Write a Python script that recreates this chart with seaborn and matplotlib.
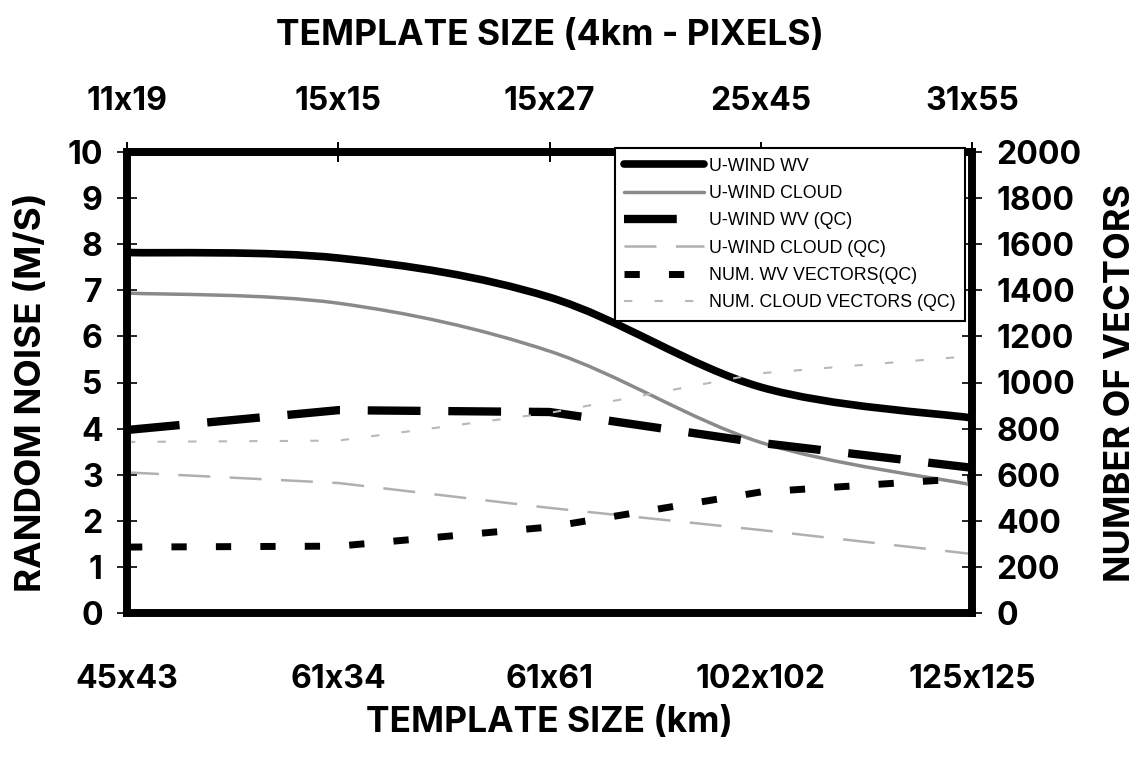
import matplotlib
matplotlib.use("Agg")
import matplotlib.pyplot as plt
import numpy as np
import pandas as pd
import seaborn as sns
from matplotlib.lines import Line2D
from matplotlib.patches import PathPatch
from matplotlib.path import Path

# Valores
km_labels = ["45x43", "61x34", "61x61", "102x102", "125x125"]
px_labels = ["11x19", "15x15", "15x27", "25x45", "31x55"]
u_wind_wv = [7.82, 7.70, 6.85, 4.90, 4.23]
u_wind_cloud = [6.94, 6.72, 5.68, 3.70, 2.78]
u_wind_wv_qc = [3.97, 4.40, 4.36, 3.69, 3.15]
u_wind_cloud_qc = [3.05, 2.82, 2.28, 1.80, 1.28]
num_wv_vectors = [286, 290, 373, 525, 585]
num_cloud_vectors = [742, 748, 868, 1040, 1115]

sns.set_theme(style="white")
plt.rcParams["font.family"] = ["Inter", "Liberation Sans", "DejaVu Sans"]
plt.rcParams.update({
    "lines.scale_dashes": False,
    "text.color": "black",
    "axes.labelcolor": "black",
    "xtick.color": "black",
    "ytick.color": "black",
})

pos = np.arange(len(km_labels))
df = pd.DataFrame({
    "pos": pos,
    "wv_qc": u_wind_wv_qc,
    "cloud_qc": u_wind_cloud_qc,
    "num_wv": num_wv_vectors,
    "num_cloud": num_cloud_vectors,
})


def smooth_path(xs, ys):
    """Curva suavizada tipo Excel (Bezier) que pasa por los puntos."""
    pts = np.column_stack([xs, ys]).astype(float)
    n = len(pts)
    verts = [pts[0]]
    codes = [Path.MOVETO]
    for i in range(n - 1):
        p0 = pts[i - 1] if i > 0 else pts[i]
        p3 = pts[i + 2] if i + 2 < n else pts[i + 1]
        c1 = pts[i] + (pts[i + 1] - p0) / 6
        c2 = pts[i + 1] - (p3 - pts[i]) / 6
        verts += [c1, c2, pts[i + 1]]
        codes += [Path.CURVE4] * 3
    return Path(verts, codes)


styles = {
    "U-WIND WV": dict(color="black", lw=5.5, ls="-"),
    "U-WIND CLOUD": dict(color="#8a8a8a", lw=2.5, ls="-"),
    "U-WIND WV (QC)": dict(color="black", lw=6, ls=(0, (38, 20))),
    "U-WIND CLOUD (QC)": dict(color="#b0b0b0", lw=1.8, ls=(0, (23, 14))),
    "NUM. WV VECTORS(QC)": dict(color="black", lw=5, ls=(0, (11, 21))),
    "NUM. CLOUD VECTORS (QC)": dict(color="#b8b8b8", lw=1.5, ls=(0, (6, 16))),
}

fig = plt.figure(figsize=(11.37, 7.6), dpi=100)
ax = fig.add_axes([127 / 1137, 147 / 760, 845 / 1137, 461 / 760])
ax2 = ax.twinx()

# Curvas suavizadas
for vals, name in [(u_wind_wv, "U-WIND WV"), (u_wind_cloud, "U-WIND CLOUD")]:
    st = styles[name]
    ax.add_patch(PathPatch(smooth_path(pos, vals), facecolor="none",
                           edgecolor=st["color"], lw=st["lw"], capstyle="butt"))

# Curvas con control de calidad (segmentos rectos)
for col, name in [("wv_qc", "U-WIND WV (QC)"), ("cloud_qc", "U-WIND CLOUD (QC)")]:
    st = styles[name]
    sns.lineplot(data=df, x="pos", y=col, ax=ax, color=st["color"],
                 linewidth=st["lw"], linestyle=st["ls"], legend=False)
for col, name in [("num_wv", "NUM. WV VECTORS(QC)"), ("num_cloud", "NUM. CLOUD VECTORS (QC)")]:
    st = styles[name]
    sns.lineplot(data=df, x="pos", y=col, ax=ax2, color=st["color"],
                 linewidth=st["lw"], linestyle=st["ls"], legend=False)

ax.set_xlim(0, 4)
ax.set_ylim(0, 10)
ax2.set_ylim(0, 2000)
ax.set_yticks(range(0, 11))
ax2.set_yticks(range(0, 2001, 200))
ax.set_xticks(pos)
ax.set_xticklabels(km_labels)

for a in (ax, ax2):
    for s in a.spines.values():
        s.set_linewidth(5.5)
        s.set_color("black")
    a.tick_params(axis="both", direction="inout", length=15, width=1.2,
                  colors="black", labelsize=23)
ax.tick_params(axis="x", pad=29, top=True)
ax.tick_params(axis="y", pad=10)
ax2.tick_params(axis="y", pad=10)
for lab in ax.get_xticklabels() + ax.get_yticklabels() + ax2.get_yticklabels():
    lab.set_fontweight("bold")

top = ax.secondary_xaxis("top")
top.set_xticks(pos)
top.set_xticklabels(px_labels, fontsize=23, fontweight="bold")
top.tick_params(direction="inout", length=15, width=1.2, pad=18)
top.spines["top"].set_linewidth(5.5)

ax.set_xlabel("TEMPLATE SIZE (km)", labelpad=8, fontsize=25.5, fontweight="bold")
top.set_xlabel("TEMPLATE SIZE (4km - PIXELS)", labelpad=29, fontsize=25.5,
               fontweight="bold")
ax.set_ylabel("RANDOM NOISE (M/S)", fontsize=26.5, fontweight="bold")
ax.yaxis.set_label_coords(-0.093, 0.479)
ax2.set_ylabel("NUMBER OF VECTORS", labelpad=16, fontsize=26, fontweight="bold")
ax2.set_xlabel("")

handles = [Line2D([0], [0], color=st["color"], lw=st["lw"], ls=st["ls"])
           for st in styles.values()]
leg = ax2.legend(handles, list(styles.keys()), loc="upper right",
                 bbox_to_anchor=(0.992, 1.009), borderaxespad=0,
                 prop={"family": ["Liberation Sans"], "size": 12.8},
                 handlelength=4.5, handletextpad=0.25,
                 labelspacing=0.58, borderpad=0.55, frameon=True,
                 fancybox=False, framealpha=1, edgecolor="black")
leg.get_frame().set_linewidth(1.5)

fig.savefig("out.png", dpi=100)
